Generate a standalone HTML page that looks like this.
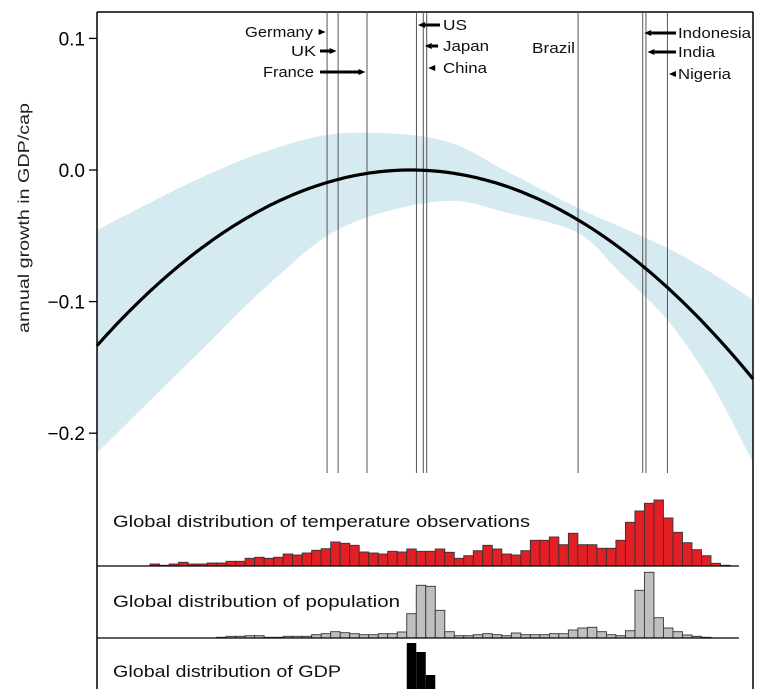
<!DOCTYPE html>
<html><head><meta charset="utf-8"><style>
html,body{margin:0;padding:0;background:#fff;}
svg{display:block;}
</style></head><body>
<svg id="chart" width="768" height="689" viewBox="0 0 768 689" xmlns="http://www.w3.org/2000/svg" font-family="'Liberation Sans', sans-serif">
  <g id="band-layer"></g>
  <g id="frame">
    <line x1="97" y1="12" x2="753" y2="12" stroke="#000" stroke-width="1.5"/>
    <line x1="97" y1="12" x2="97" y2="689" stroke="#000" stroke-width="1.5"/>
    <line x1="753" y1="12" x2="753" y2="689" stroke="#000" stroke-width="1.5"/>
  </g>
  <g id="country-layer"></g>
  <g id="curve-layer"></g>
  <g id="yaxis"></g>
  <text transform="translate(29,218) rotate(-90)" text-anchor="middle" font-size="16" textLength="230" lengthAdjust="spacingAndGlyphs" fill="#222">annual growth in GDP/cap</text>
  <g id="hist-layer"></g>
  <text x="113" y="527" font-size="17" textLength="417" lengthAdjust="spacingAndGlyphs" fill="#111">Global distribution of temperature observations</text>
  <text x="113" y="607" font-size="17" textLength="287" lengthAdjust="spacingAndGlyphs" fill="#111">Global distribution of population</text>
  <text x="113" y="677" font-size="17" textLength="228" lengthAdjust="spacingAndGlyphs" fill="#111">Global distribution of GDP</text>
</svg>
<script>
// ---- data ----
const yTicks = [0.1, 0.0, -0.1, -0.2];
const yTickLabels = ["0.1", "0.0", "\u22120.1", "\u22120.2"];
const curvePeakT = 12.5;
const curveCoef = -0.00049;
const bandT = [-4, 1.2, 5.1, 8.95, 14.1, 17.7, 21.3, 23.5, 26, 28.3, 30.5];
const bandUpper = [-0.0456, -0.0076, 0.0152, 0.028, 0.0228, -0.0023, -0.0289, -0.043, -0.0593, -0.078, -0.0988];
const bandLower = [-0.215, -0.141, -0.086, -0.0433, -0.0236, -0.033, -0.0479, -0.078, -0.114, -0.162, -0.222];
const countries = ["Germany", "UK", "France", "US", "Japan", "China", "Brazil", "Indonesia", "India", "Nigeria"];
const countryTemps = [8.1, 8.68, 10.2, 12.8, 13.16, 13.34, 21.3, 24.7, 24.87, 26.0];
const binStartT = -1.21;
const binWidthT = 0.5;
const tempHist = [2,0.7,2,3.7,2,2,3,3,4.7,4.7,7.7,8.7,7.7,8.7,12,11,13,15.7,17.3,24,22.7,20.7,14,13,12,14.7,14,17,14.7,14.7,17,13.7,7.7,10.3,15.3,20.7,17,12,11,15.3,25.7,25.7,29,21.3,32.7,21.3,21.3,17.7,17.7,25.7,43.7,55,62.7,66,48,33.7,23.3,16.3,10.3,2.7,0.7];
const popHist = [0,0,0,0,0,0,0,0.7,1.7,1.7,2.3,2.3,0.7,0.7,1.7,1.7,1.7,3.3,4.3,6.3,5.3,4.3,3.3,3.3,4.3,4.3,6,24.3,52.7,51.7,27.7,6.3,2.3,2.3,3.3,4.3,3.3,2.3,5,3.3,3.3,3.3,4.3,4.3,8,10,10.7,6.3,3.3,2.3,7.3,47.7,65.7,20.3,10,6.3,3,1.7,0.7,0];
const gdpHist = [46, 37, 14];
const gdpStartBin = 27;

// ---- scales ----
const X0 = 97, X1 = 753, T0 = -4, T1 = 30.5;
function xs(t){ return X0 + (t - T0) / (T1 - T0) * (X1 - X0); }
function ys(v){ return 170 - v * 1316; }
const NS = "http://www.w3.org/2000/svg";
function mk(tag, attrs, parent){
  const e = document.createElementNS(NS, tag);
  for (const k in attrs) e.setAttribute(k, attrs[k]);
  parent.appendChild(e);
  return e;
}
function spline(pts){
  let d = "M" + pts[0][0].toFixed(1) + "," + pts[0][1].toFixed(1);
  for (let i = 0; i < pts.length - 1; i++){
    const p0 = pts[Math.max(i-1,0)], p1 = pts[i], p2 = pts[i+1], p3 = pts[Math.min(i+2,pts.length-1)];
    const c1 = [p1[0] + (p2[0]-p0[0])/6, p1[1] + (p2[1]-p0[1])/6];
    const c2 = [p2[0] - (p3[0]-p1[0])/6, p2[1] - (p3[1]-p1[1])/6];
    d += " C" + c1.map(v=>v.toFixed(1)).join(",") + " " + c2.map(v=>v.toFixed(1)).join(",") + " " + p2.map(v=>v.toFixed(1)).join(",");
  }
  return d;
}

// band
const bandLayer = document.getElementById("band-layer");
const up = bandT.map((t,i)=>[xs(t), ys(bandUpper[i])]);
const lo = bandT.map((t,i)=>[xs(t), ys(bandLower[i])]).reverse();
let bd = spline(up) + " L" + lo[0][0].toFixed(1) + "," + lo[0][1].toFixed(1) + spline(lo).replace(/^M[^C]*/, " ") + " Z";
const band = mk("path", {d: bd, fill: "#d6eaf2"}, bandLayer);



// country lines
const cl = document.getElementById("country-layer");
countryTemps.forEach((t,i)=>{
  const ln = mk("line", {x1: xs(t), x2: xs(t), y1: 12, y2: 473, stroke: "#555", "stroke-width": 1}, cl);
  
  
});
// labels + arrows: [labelX, baselineY, anchor, width, arrowY, tailX, hasBody]
const labelSpecs = [
  [313,37,"end",68,32,316,false],
  [316,56,"end",25,51,320,true],
  [314,77,"end",51,72,320,true],
  [443,30,"start",24,25,440,true],
  [443,51,"start",46,46,438,true],
  [443,73,"start",44,68,435,false],
  [575,53,"end",43,null,null,false],
  [678,38,"start",73,33,676,true],
  [678,57,"start",37,52,676,true],
  [678,79,"start",53,74,675,false]
];
countries.forEach((c,i)=>{
  const s = labelSpecs[i];
  const tx = mk("text", {x: s[0], y: s[1], "text-anchor": s[2], "font-size": 15, textLength: s[3], lengthAdjust: "spacingAndGlyphs", fill: "#111"}, cl);
  tx.textContent = c;
  
  
  if (s[4] !== null){
    const hx = xs(countryTemps[i]) + (s[5] > xs(countryTemps[i]) ? 1.5 : -1.5);
    const dir = hx > s[5] ? 1 : -1;
    const hb = hx - dir*7;
    if (s[6]) mk("line", {x1: s[5], y1: s[4], x2: hb, y2: s[4], stroke: "#000", "stroke-width": 3}, cl);
    const ah = mk("path", {d: `M${hx},${s[4]} L${hb},${s[4]-3} L${hb},${s[4]+3} Z`, fill: "#000"}, cl);
    
    
  }
});

// curve
const cv = document.getElementById("curve-layer");
let cd = "";
for (let k = 0; k <= 140; k++){
  const t = T0 + (T1 - T0) * k / 140;
  const v = curveCoef * (t - curvePeakT) * (t - curvePeakT);
  cd += (k ? " L" : "M") + xs(t).toFixed(1) + "," + ys(v).toFixed(1);
}
const cpath = mk("path", {d: cd, fill: "none", stroke: "#000", "stroke-width": 3.2}, cv);



// y axis
const ya = document.getElementById("yaxis");
yTicks.forEach((v,i)=>{
  mk("line", {x1: 89, x2: 97, y1: ys(v), y2: ys(v), stroke: "#000", "stroke-width": 1.3}, ya);
  const t = mk("text", {x: 85, y: ys(v) + 7, "text-anchor": "end", "font-size": 19, fill: "#000"}, ya);
  t.textContent = yTickLabels[i];
  
  
});

// histograms
const hl = document.getElementById("hist-layer");
function binX(i){ return xs(binStartT + i * binWidthT); }
const bw = binX(1) - binX(0);
tempHist.forEach((h,i)=>{
  if (h <= 0) return;
  const r = mk("rect", {x: binX(i), y: 566 - h, width: bw, height: h, fill: "#e31f26", stroke: "#333", "stroke-width": 0.9}, hl);
  
  
});
mk("line", {x1: 97, x2: 739, y1: 566, y2: 566, stroke: "#000", "stroke-width": 1.3}, hl);
popHist.forEach((h,i)=>{
  if (h <= 0) return;
  const r = mk("rect", {x: binX(i), y: 638 - h, width: bw, height: h, fill: "#bfbfbf", stroke: "#333", "stroke-width": 0.9}, hl);
  
  
});
mk("line", {x1: 97, x2: 739, y1: 638, y2: 638, stroke: "#000", "stroke-width": 1.3}, hl);
gdpHist.forEach((h,i)=>{
  const r = mk("rect", {x: binX(gdpStartBin + i), y: 689 - h, width: bw, height: h, fill: "#000"}, hl);
  
  
});
</script>
</body></html>
